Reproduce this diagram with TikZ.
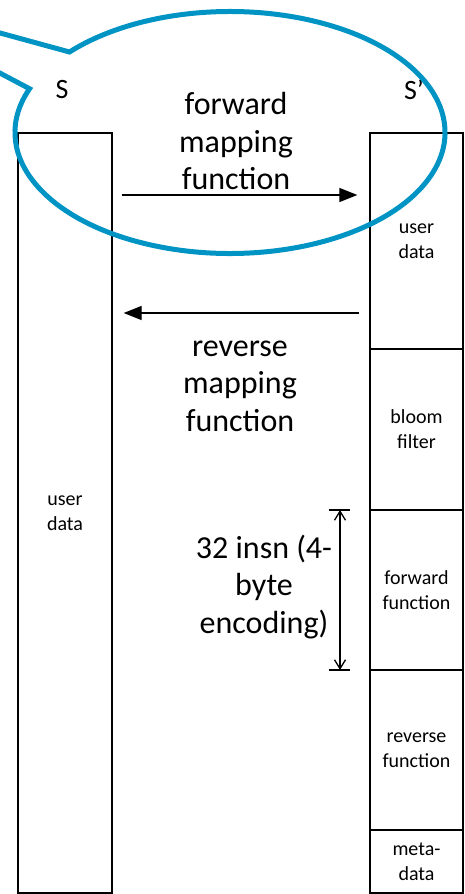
\documentclass[tikz,border=0pt]{standalone}
\usepackage{fontspec}
\setmainfont{Carlito}
\usetikzlibrary{arrows.meta,calc}
\definecolor{calloutblue}{RGB}{0,148,196}
\begin{document}
\begin{tikzpicture}[x=1pt,y=1pt,
  cell/.style={draw, line width=1.3pt, minimum width=93pt, inner sep=0pt,
    align=center, font=\fontsize{20}{25}\selectfont},
  bigtext/.style={align=center, inner sep=0pt, font=\fontsize{32}{37.5}\selectfont},
  label/.style={inner sep=0pt, font=\fontsize{28}{32}\selectfont},
  maparrow/.style={line width=1.3pt, -{Triangle[length=18pt,width=14pt]}},
  dimline/.style={line width=1.3pt},
  callout/.style={draw=calloutblue, line width=5pt}
]
\useasboundingbox (0,0) rectangle (464,894);

% source store S
\node[cell, minimum width=94pt, minimum height=760pt] (sbox) at (65,381) {user\\data};

% target store S' split into its regions
\node[cell, minimum height=216pt] (ud)    at (416.5,653)   {user\\data};
\node[cell, minimum height=161pt] (bloom) at (416.5,464.5) {bloom\\filter};
\node[cell, minimum height=160pt] (fwd)   at (416.5,304)   {forward\\function};
\node[cell, minimum height=160pt] (rev)   at (416.5,144)   {reverse\\function};
\node[cell, minimum height=63pt]  (meta)  at (416.5,32.5)  {meta-\\data};

% store labels
\node[label] (slabel)  at (62,804)  {S};
\node[label] (splabel) at (414,804) {S’};

% mapping arrows
\coordinate (fwdrow) at (0,699);
\coordinate (revrow) at (0,581);
\draw[maparrow, shorten <=9pt, shorten >=12pt] (sbox.east |- fwdrow) -- (ud.west |- fwdrow);
\draw[maparrow, shorten <=10pt, shorten >=11pt] (ud.west |- revrow) -- (sbox.east |- revrow);

\node[bigtext] (fwdtext) at (236,752.5) {forward\\mapping\\function};
\node[bigtext] (revtext) at (240,508) {reverse\\mapping\\function};

% size of the forward function region
\coordinate (dimtop) at (340,384);
\coordinate (dimbot) at (340,224);
\draw[dimline] ($(dimtop)+(-11,0)$) -- ++(21,0);
\draw[dimline] ($(dimbot)+(-11,0)$) -- ++(21,0);
\draw[dimline, {Straight Barb[length=9pt,width=11pt]}-{Straight Barb[length=9pt,width=11pt]}] (dimtop) -- (dimbot);
\node[bigtext] (dimtext) at (264,307) {32 insn (4-\\byte\\encoding)};

% speech-bubble callout around the forward mapping
\coordinate (ec) at (230,761.5);
\coordinate (tailA) at (-8,825.1);
\coordinate (tailB) at (-8,863.2);
\draw[callout] (tailA) -- ($(ec)+(158.8:215 and 121)$)
  arc[start angle=158.8, end angle=498.3, x radius=215, y radius=121] -- (tailB);
\end{tikzpicture}
\end{document}
